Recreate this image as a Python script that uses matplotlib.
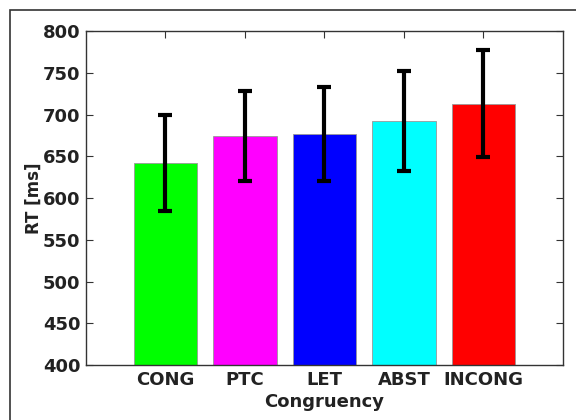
import matplotlib.pyplot as plt
from matplotlib.patches import Rectangle

# congruency conditions, mean RT and error bar half-widths (ms)
conditions = ['CONG', 'PTC', 'LET', 'ABST', 'INCONG']
rt_mean = [642, 675, 677, 692, 713]
rt_err = [58, 54, 56, 60, 64]
bar_colors = ['#00ff00', '#ff00ff', '#0000ff', '#00ffff', '#ff0000']

fig = plt.figure(figsize=(5.76, 4.2), dpi=100)
ax = fig.add_axes([0.1493, 0.131, 0.8281, 0.7945])

x = range(1, len(conditions) + 1)
ax.bar(x, rt_mean, width=0.8, color=bar_colors, edgecolor='#999999', linewidth=0.6, zorder=2)
ax.errorbar(x, rt_mean, yerr=rt_err, fmt='none', ecolor='black', elinewidth=3,
            capsize=5, capthick=3, zorder=3)

ax.set_xlim(0, 6)
ax.set_ylim(400, 800)
ax.set_yticks(range(400, 801, 50))
ax.set_xticks(list(x))
ax.set_xticklabels(conditions)
ax.tick_params(direction='in', top=True, right=True, length=5, width=0.8,
               color='#333333', labelsize=13, pad=4)
for lab in ax.get_xticklabels() + ax.get_yticklabels():
    lab.set_fontweight('bold')
    lab.set_color('#222222')
for sp in ax.spines.values():
    sp.set_color('#333333')
    sp.set_linewidth(1.0)

ax.set_ylabel('RT [ms]', fontsize=12, fontweight='bold', color='#222222', labelpad=0)
ax.set_xlabel('Congruency', fontsize=13, fontweight='bold', color='#222222', labelpad=3)

# outer frame around the figure
fig.patches.append(Rectangle((10 / 576, -0.1), 1.1, 1 - 10 / 420 + 0.1, transform=fig.transFigure,
                             fill=False, edgecolor='#333333', linewidth=1.2))

fig.savefig('out.png', dpi=100)
